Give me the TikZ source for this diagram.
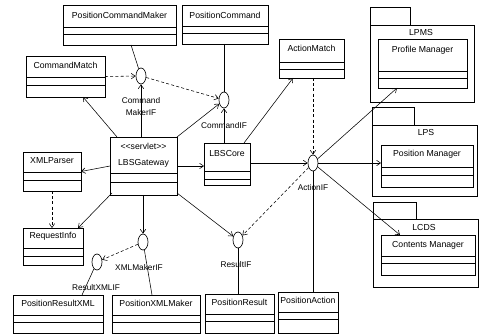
\documentclass[tikz,border=0pt]{standalone}
\usepackage{fontspec}
\setmainfont{Liberation Sans}
\usetikzlibrary{arrows.meta,shapes.geometric,fit,calc}

\tikzset{
  cls/.style={draw, inner sep=0pt, outer sep=0pt, line width=0.65pt},
  ctitle/.style={font=\fontsize{8.7}{10}\selectfont, inner sep=0pt},
  iflabel/.style={font=\fontsize{8.3}{12.5}\selectfont, inner sep=0pt, align=center},
  iface/.style={ellipse, draw, fill=white, line width=0.65pt, minimum width=10pt, minimum height=16pt, inner sep=0pt},
  conn/.style={line width=0.55pt},
  tip/.style={conn, -{Straight Barb[length=4pt,width=5.5pt]}},
  dep/.style={tip, dash pattern=on 3pt off 2.2pt}
}

% class box: name, x1, y1, x2, y2, first divider, second divider, title y, title
\newcommand\classbox[9]{%
  \node[cls, fit={(#2,#3) (#4,#5)}] (#1) {};
  \draw[line width=0.65pt] (#1.west |- 0,#6) -- (#1.east |- 0,#6);
  \draw[line width=0.65pt] (#1.west |- 0,#7) -- (#1.east |- 0,#7);
  \node[ctitle] (#1-t) at (#1.center |- 0,#8) {#9};
}

% package: name, x1, tab top, tab right, body top, x2, body bottom, label, label position
\newcommand\pkgbox[9]{%
  \node[cls, fit={(#2,#3) (#4,#5)}] (#1-tab) {};
  \node[cls, fit={(#2,#5) (#6,#7)}] (#1) {};
  \node[ctitle] (#1-t) at (#9) {#8};
}

\begin{document}
\begin{tikzpicture}[x=1pt, y=-1pt]
\useasboundingbox[fill=white] (0,0) rectangle (480,334);

% packages on the right
\pkgbox{lpms}{370}{7}{410}{25}{474}{102}{LPMS}{421,33}
\classbox{prof}{378}{39}{467}{88}{71}{78}{50}{Profile Manager}
\pkgbox{lps}{372}{107}{414}{125}{477}{196}{LPS}{426,133}
\classbox{posm}{381}{145}{473}{187}{167}{175}{154}{Position Manager}
\pkgbox{lcds}{373}{202}{416}{219}{478}{287}{LCDS}{424,228}
\classbox{cont}{381}{235}{475}{275}{256}{263}{245}{Contents Manager}

% classes
\classbox{pcm}{63}{5}{176}{45}{27}{34}{15}{PositionCommandMaker}
\classbox{pc}{182}{5}{268}{44}{26}{33}{15}{PositionCommand}
\classbox{cmatch}{26}{56}{105}{97}{77}{85}{65}{CommandMatch}
\classbox{am}{279}{39}{344}{78}{62}{69}{48}{ActionMatch}
\classbox{xp}{23}{152}{81}{191}{172}{180}{161}{XMLParser}
\classbox{gw}{110}{137}{177}{195}{173}{182}{163}{LBSGateway}
\node[ctitle] (gw-st) at (gw.center |- 0,146) {<{}<servlet>{}>};
\classbox{lbs}{204}{143}{250}{185}{171}{179}{154}{LBSCore}
\classbox{ri}{23}{228}{83}{265}{248}{256}{236}{RequestInfo}
\classbox{prx}{13}{295}{103}{333}{315}{322}{303}{PositionResultXML}
\classbox{pxm}{112}{295}{200}{333}{315}{322}{303}{PositionXMLMaker}
\classbox{pr}{205}{294}{274}{333}{314}{321}{302}{PositionResult}
\classbox{pa}{278}{292}{338}{333}{312}{319}{300}{PositionAction}

% interfaces
\node[iface] (cmIF) at (141,76) {};
\node[iface] (cIF)  at (224,100) {};
\node[iface] (aIF)  at (313,163) {};
\node[iface] (xmIF) at (143,242) {};
\node[iface] (rxIF) at (97,262) {};
\node[iface] (rIF)  at (238,240) {};

\node[iflabel] (cmIF-l) at (141,106.5) {Command\\MakerIF};
\node[iflabel] (cIF-l)  at (224,126) {CommandIF};
\node[iflabel] (aIF-l)  at (313,188) {ActionIF};
\node[iflabel] (xmIF-l) at (139,268) {XMLMakerIF};
\node[iflabel] (rxIF-l) at (96,288) {ResultXMLIF};
\node[iflabel] (rIF-l)  at (236,265) {ResultIF};

% realizations
\draw[conn] ($(pcm.south west)+(68,0)$) -- (cmIF);
\draw[conn] (pc.south -| cIF) -- (cIF);
\draw[conn] (pa.north -| aIF) -- (aIF);
\draw[conn] (pr.north -| rIF) -- (rIF);
\draw[conn] (xmIF) -- ($(pxm.north west)+(40,0)$);
\draw[conn] (rxIF) -- ($(prx.north west)+(69,0)$);

% dependencies
\draw[dep] (cmatch.east) -- (cmIF);
\draw[dep] (cmIF) -- (cIF);
\draw[dep] (am.south -| aIF) -- (aIF);
\draw[dep] (aIF) -- (rIF);
\draw[dep] (xmIF) -- (rxIF);
\draw[dep] (xp.south) -- (xp.south |- ri.north);

% associations
\draw[tip] (gw.north -| cmIF) -- (cmIF);
\draw[tip] (gw.north east) -- (cIF);
\draw[tip] ($(gw.north west)+(7,0)$) -- ($(cmatch.south west)+(57,0)$);
\draw[tip] (lbs.north -| cIF) -- (cIF);
\draw[tip] ($(lbs.north east)+(-6,0)$) -- ($(am.south west)+(14,0)$);
\draw[tip] (gw.west) -- (xp.east);
\draw[tip] (gw.east) -- (gw.east -| lbs.west);
\draw[tip] ($(gw.south west)+(2,-2)$) -- ($(ri.north east)+(-5,0)$);
\draw[tip] (gw.south -| xmIF) -- (xmIF);
\draw[tip] ($(gw.south east)+(0,-2)$) -- (rIF);
\draw[tip] (lbs.east |- aIF) -- (aIF);
\draw[tip] (aIF) -- ($(prof.south west)+(19,0)$);
\draw[tip] (aIF) -- (aIF -| posm.west);
\draw[tip] (aIF) -- ($(cont.north west)+(19,0)$);
\end{tikzpicture}
\end{document}
